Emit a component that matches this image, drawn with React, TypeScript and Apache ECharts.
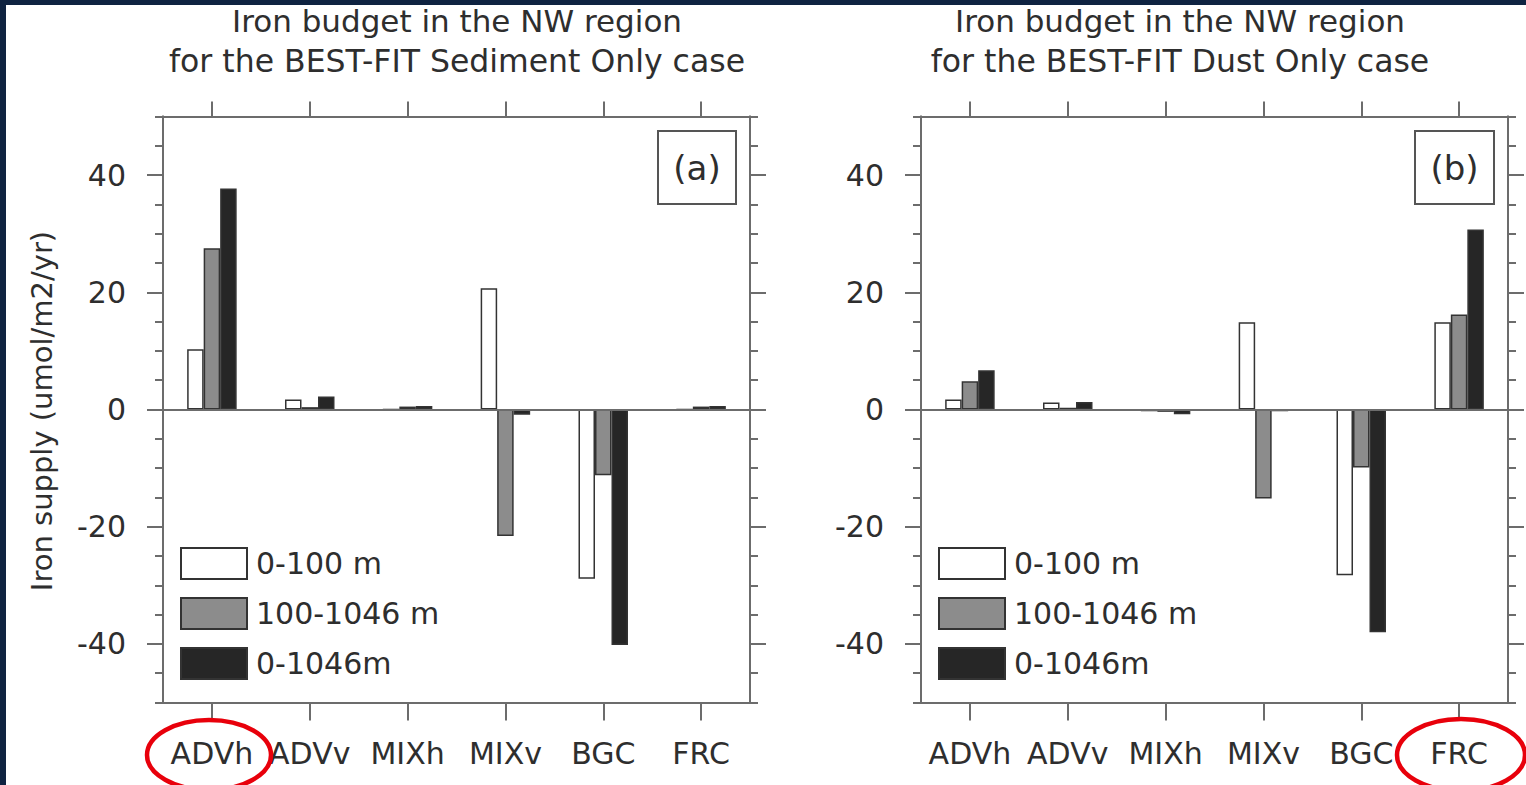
import React, { useEffect, useRef } from "react";
import * as echarts from "echarts";

const categories = ["ADVh", "ADVv", "MIXh", "MIXv", "BGC", "FRC"];
const seriesNames = ["0-100 m", "100-1046 m", "0-1046m"];
const majorTicks = [-40, -20, 0, 20, 40];

// (a) BEST-FIT Sediment Only case
const sedShallow = [10.3, 1.7, 0, 20.7, -28.9, 0];
const sedDeep = [27.5, 0.4, 0.5, -21.6, -11.2, 0.5];
const sedTotal = [37.7, 2.2, 0.6, -0.9, -40.2, 0.6];

// (b) BEST-FIT Dust Only case
const dustShallow = [1.7, 1.2, -0.3, 14.9, -28.3, 14.9];
const dustDeep = [4.8, 0.3, -0.4, -15.2, -9.9, 16.2];
const dustTotal = [6.7, 1.3, -0.8, -0.3, -38.0, 30.7];

const titleA = ["Iron budget in the NW region", "for the BEST-FIT Sediment Only case"];
const titleB = ["Iron budget in the NW region", "for the BEST-FIT Dust Only case"];
const yName = "Iron supply (umol/m2/yr)";

const FONT = '"DejaVu Sans"';
const AXIS_COLOR = "#6c6c6c";
const TEXT_COLOR = "#2e2e2e";
const BAR_COLORS = ["#ffffff", "#8c8c8c", "#262626"];

export default function App() {
  const ref = useRef<HTMLDivElement>(null);

  useEffect(() => {
    if (!ref.current) return;
    const chart = echarts.init(ref.current, null, { renderer: "svg" });

    const grids = [
      { left: 163, top: 116.5, width: 587, height: 586 },
      { left: 921, top: 116.5, width: 587, height: 586 },
    ];

    const lineStyle = { color: AXIS_COLOR, width: 2 };

    const xAxis: any[] = [];
    const yAxis: any[] = [];
    grids.forEach((_, gi) => {
      xAxis.push({
        gridIndex: gi,
        type: "category",
        data: categories,
        position: "bottom",
        axisLine: { show: true, onZero: false, lineStyle },
        axisTick: { show: true, alignWithLabel: true, interval: 0, length: 18, lineStyle },
        axisLabel: { interval: 0, margin: 36, fontSize: 30, fontFamily: FONT, color: TEXT_COLOR },
        splitLine: { show: false },
      });
      xAxis.push({
        gridIndex: gi,
        type: "category",
        data: categories,
        position: "top",
        axisLine: { show: true, onZero: false, lineStyle },
        axisTick: { show: true, alignWithLabel: true, interval: 0, length: 15, lineStyle },
        axisLabel: { show: false },
        splitLine: { show: false },
      });
      ["left", "right"].forEach((pos) => {
        yAxis.push({
          gridIndex: gi,
          type: "value",
          position: pos,
          min: -50,
          max: 50,
          interval: 5,
          axisLine: { show: true, onZero: false, lineStyle },
          axisTick: { show: true, length: 8, lineStyle },
          axisLabel: { show: false },
          splitLine: { show: false },
        });
        yAxis.push({
          gridIndex: gi,
          type: "value",
          position: pos,
          min: -50,
          max: 50,
          axisLine: { show: true, onZero: false, lineStyle },
          axisTick: { show: true, length: 16, lineStyle, customValues: majorTicks },
          axisLabel: {
            show: pos === "left",
            customValues: majorTicks,
            margin: 37,
            fontSize: 30,
            fontFamily: FONT,
            color: TEXT_COLOR,
          },
          splitLine: { show: false },
        });
      });
    });

    const panelData = [
      [sedShallow, sedDeep, sedTotal],
      [dustShallow, dustDeep, dustTotal],
    ];

    const series: any[] = [];
    panelData.forEach((set, gi) => {
      set.forEach((vals, si) => {
        series.push({
          type: "bar",
          name: seriesNames[si],
          xAxisIndex: gi * 2,
          yAxisIndex: gi * 4,
          data: vals,
          barWidth: 16.5,
          barGap: "0%",
          itemStyle: { color: BAR_COLORS[si], borderColor: "#333333", borderWidth: 1.5 },
          emphasis: { disabled: true },
          markLine:
            si === 0
              ? {
                  silent: true,
                  symbol: "none",
                  label: { show: false },
                  lineStyle: { color: AXIS_COLOR, width: 2, type: "solid" },
                  data: [{ yAxis: 0 }],
                }
              : undefined,
        });
      });
    });

    const legendBase = {
      orient: "vertical",
      padding: 0,
      itemWidth: 66,
      itemHeight: 31,
      itemGap: 17,
      icon: "rect",
      selectedMode: false,
      data: seriesNames,
      itemStyle: { borderColor: "#333333", borderWidth: 2 },
      textStyle: { fontSize: 30, fontFamily: FONT, color: TEXT_COLOR, padding: [0, 0, 0, 4] },
    };

    const textEl = (x: number, y: number, text: string, size: number, extra: any = {}) => ({
      type: "text",
      x,
      y,
      ...extra,
      style: {
        text,
        font: `${size}px ${FONT}`,
        fill: TEXT_COLOR,
        textAlign: "center",
        textVerticalAlign: "middle",
      },
    });

    const graphic: any[] = [
      { type: "rect", shape: { x: 0, y: 0, width: 1526, height: 5 }, style: { fill: "#0f2341" } },
      { type: "rect", shape: { x: 0, y: 0, width: 6, height: 785 }, style: { fill: "#0f2341" } },
      textEl(457, 21, titleA[0], 31),
      textEl(457, 61, titleA[1], 31.5),
      textEl(1180, 21, titleB[0], 31),
      textEl(1180, 61, titleB[1], 31.5),
      textEl(42, 411, yName, 29, { rotation: Math.PI / 2 }),
      {
        type: "rect",
        shape: { x: 658, y: 131, width: 78, height: 73 },
        style: { fill: "#fff", stroke: "#555", lineWidth: 2 },
      },
      textEl(697, 168, "(a)", 34),
      {
        type: "rect",
        shape: { x: 1415, y: 131, width: 79, height: 73 },
        style: { fill: "#fff", stroke: "#555", lineWidth: 2 },
      },
      textEl(1454.5, 168, "(b)", 34),
      {
        type: "ellipse",
        z: 100,
        shape: { cx: 209, cy: 755, rx: 62, ry: 35 },
        style: { fill: "none", stroke: "#e8000b", lineWidth: 4.5 },
      },
      {
        type: "ellipse",
        z: 100,
        shape: { cx: 1461, cy: 755, rx: 64, ry: 36 },
        style: { fill: "none", stroke: "#e8000b", lineWidth: 4.5 },
      },
    ];

    chart.setOption({
      animation: false,
      backgroundColor: "#ffffff",
      grid: grids,
      xAxis,
      yAxis,
      legend: [
        { ...legendBase, left: 180, top: 547 },
        { ...legendBase, left: 938, top: 547 },
      ],
      series,
      graphic,
    });

    return () => chart.dispose();
  }, []);

  return (
    <div
      ref={ref}
      style={{ position: "fixed", left: 0, top: 0, width: 1526, height: 785 }}
    />
  );
}
